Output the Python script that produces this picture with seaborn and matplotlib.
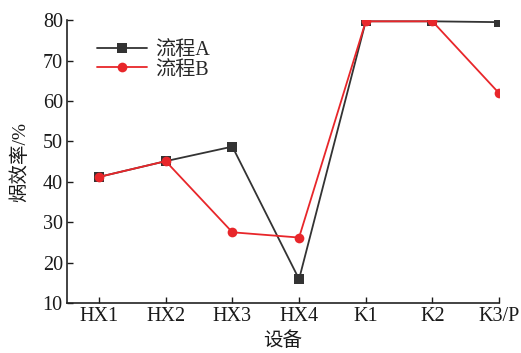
import matplotlib
matplotlib.use("Agg")
import matplotlib.pyplot as plt
import seaborn as sns
import pandas as pd

categories = ["HX1", "HX2", "HX3", "HX4", "K1", "K2", "K3/P"]
flow_a = [41.2, 45.1, 48.7, 15.9, 79.7, 79.7, 79.5]
flow_b = [41.2, 45.1, 27.5, 26.2, 79.7, 79.7, 61.9]
series_names = ["流程A", "流程B"]

sns.set_theme(style="ticks")
plt.rcParams['font.family'] = ['Liberation Serif', 'Noto Sans CJK SC', 'DejaVu Sans']
plt.rcParams['font.size'] = 14.5

df = pd.DataFrame({
    "设备": categories * 2,
    "value": flow_a + flow_b,
    "series": [series_names[0]] * len(categories) + [series_names[1]] * len(categories),
})
df["x"] = list(range(len(categories))) * 2

fig = plt.figure(figsize=(5.21, 3.53), dpi=100)
ax = fig.add_axes([0.1286, 0.1416, 0.958 - 0.1286, 0.943 - 0.1416])

palette = {series_names[0]: "#333333", series_names[1]: "#e8262a"}
sns.lineplot(data=df, x="x", y="value", hue="series", style="series",
             markers={series_names[0]: "s", series_names[1]: "o"}, dashes=False,
             palette=palette, markersize=7, linewidth=1.3, markeredgewidth=0,
             ax=ax)

ax.set_xlim(-0.48, 6)
ax.set_ylim(10, 80)
ax.set_xticks(range(len(categories)))
ax.set_xticklabels(categories)
ax.set_yticks(range(10, 81, 10))
ax.tick_params(direction="in", length=4, width=1, labelsize=14.5, colors="#1a1a1a", pad=3)
for s in ["top", "right"]:
    ax.spines[s].set_visible(False)
for s in ["left", "bottom"]:
    ax.spines[s].set_linewidth(1.2)
    ax.spines[s].set_color("#222222")
ax.set_xlabel("设备", fontsize=14, labelpad=4, color="#1a1a1a")
ax.set_ylabel("㶽效率/%", fontsize=14, labelpad=10, color="#1a1a1a")

leg = ax.legend(loc="upper left", bbox_to_anchor=(0.05, 0.955), frameon=False,
                fontsize=14.5, handlelength=2.5, borderaxespad=0, labelspacing=0.02,
                handletextpad=0.4)
fig.savefig("out.png", dpi=100)
